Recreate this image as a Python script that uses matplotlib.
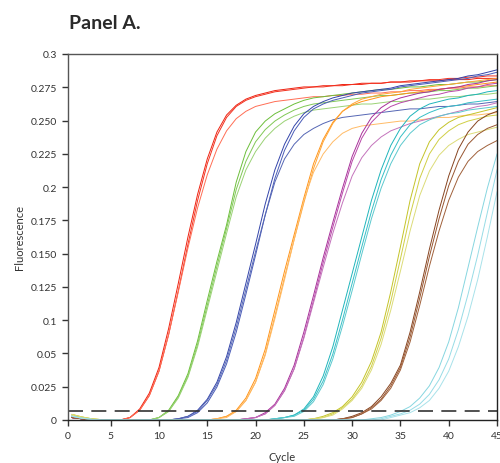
import numpy as np
import matplotlib
matplotlib.use("Agg")
import matplotlib.pyplot as plt

# qPCR amplification curves, values per cycle (1..45)
cycles = np.arange(1, 46)

# early baseline wobble at cycles 1..4
lead_high = [0.0045, 0.0025, 0.001, 0.0003]
lead_mid = [0.003, 0.0015, 0.0005]
lead_low = [0.002, 0.001]

# each series below ends at cycle 45; earlier cycles are baseline (0)
red_1 = [0.002, 0.009, 0.022, 0.043, 0.075, 0.112, 0.150, 0.185, 0.214, 0.236, 0.250, 0.258, 0.263,
         0.266, 0.268, 0.270, 0.271, 0.272, 0.273, 0.273, 0.274, 0.274, 0.275, 0.275, 0.276, 0.276,
         0.276, 0.277, 0.277, 0.277, 0.278, 0.278, 0.278, 0.279, 0.279, 0.279, 0.280, 0.280, 0.280]
red_2 = [0.002, 0.008, 0.020, 0.040, 0.070, 0.106, 0.144, 0.180, 0.210, 0.233, 0.248, 0.257, 0.262,
         0.265, 0.267, 0.269, 0.270, 0.271, 0.272, 0.273, 0.273, 0.274, 0.274, 0.275, 0.275, 0.276,
         0.276, 0.277, 0.277, 0.278, 0.278, 0.279, 0.279, 0.280, 0.280, 0.281, 0.281, 0.282, 0.282]
red_3 = [0.002, 0.008, 0.020, 0.040, 0.070, 0.105, 0.141, 0.174, 0.201, 0.222, 0.237, 0.247, 0.253,
         0.257, 0.259, 0.261, 0.262, 0.263, 0.264, 0.265, 0.265, 0.266, 0.266, 0.267, 0.267, 0.268,
         0.268, 0.269, 0.269, 0.270, 0.270, 0.271, 0.271, 0.272, 0.272, 0.273, 0.273, 0.274, 0.274]

green_1 = [0.002, 0.008, 0.020, 0.038, 0.065, 0.098, 0.130, 0.160, 0.195, 0.220, 0.236, 0.245, 0.251,
           0.255, 0.259, 0.262, 0.264, 0.265, 0.266, 0.267, 0.268, 0.269, 0.270, 0.271, 0.271, 0.272,
           0.273, 0.273, 0.274, 0.275, 0.275, 0.276, 0.277, 0.277, 0.278, 0.279]
green_2 = [0.002, 0.007, 0.019, 0.036, 0.062, 0.094, 0.126, 0.157, 0.189, 0.212, 0.228, 0.238, 0.245,
           0.250, 0.254, 0.257, 0.259, 0.260, 0.261, 0.262, 0.263, 0.264, 0.265, 0.266, 0.266, 0.267,
           0.268, 0.268, 0.269, 0.270, 0.270, 0.271, 0.272, 0.272, 0.273, 0.274]
green_3 = [0.002, 0.007, 0.018, 0.035, 0.060, 0.091, 0.122, 0.153, 0.183, 0.205, 0.220, 0.231, 0.239,
           0.245, 0.249, 0.252, 0.254, 0.255, 0.256, 0.257, 0.258, 0.259, 0.259, 0.260, 0.261, 0.261,
           0.262, 0.263, 0.263, 0.264, 0.265, 0.265, 0.266, 0.267, 0.267, 0.268]

blue_1 = [0.001, 0.003, 0.008, 0.017, 0.031, 0.052, 0.080, 0.112, 0.144, 0.177, 0.205, 0.226, 0.241,
          0.251, 0.257, 0.261, 0.264, 0.266, 0.268, 0.269, 0.270, 0.271, 0.272, 0.274, 0.275, 0.276,
          0.277, 0.278, 0.279, 0.280, 0.282, 0.283, 0.285, 0.287]
blue_2 = [0.001, 0.002, 0.006, 0.014, 0.027, 0.046, 0.072, 0.103, 0.135, 0.168, 0.198, 0.221, 0.237,
          0.248, 0.255, 0.259, 0.262, 0.264, 0.266, 0.268, 0.269, 0.270, 0.271, 0.273, 0.274, 0.275,
          0.276, 0.277, 0.278, 0.279, 0.280, 0.282, 0.283, 0.285]
blue_3 = [0.001, 0.003, 0.007, 0.016, 0.029, 0.049, 0.076, 0.107, 0.138, 0.168, 0.195, 0.214, 0.226,
          0.234, 0.239, 0.243, 0.246, 0.248, 0.249, 0.250, 0.251, 0.252, 0.253, 0.254, 0.255, 0.255,
          0.256, 0.257, 0.257, 0.258, 0.259, 0.259, 0.260, 0.261]

orange_1 = [0.001, 0.003, 0.008, 0.018, 0.034, 0.058, 0.090, 0.122, 0.152, 0.182, 0.210, 0.230, 0.244,
            0.253, 0.258, 0.261, 0.263, 0.265, 0.266, 0.267, 0.268, 0.269, 0.270, 0.271, 0.272, 0.273,
            0.274, 0.275, 0.276, 0.277]
orange_2 = [0.001, 0.003, 0.007, 0.016, 0.031, 0.054, 0.085, 0.117, 0.148, 0.178, 0.206, 0.228, 0.243,
            0.253, 0.259, 0.263, 0.265, 0.267, 0.268, 0.269, 0.271, 0.272, 0.273, 0.274, 0.275, 0.276,
            0.277, 0.278, 0.279, 0.280]
orange_3 = [0.001, 0.002, 0.007, 0.016, 0.031, 0.053, 0.083, 0.115, 0.148, 0.180, 0.203, 0.218, 0.228,
            0.235, 0.239, 0.241, 0.242, 0.243, 0.244, 0.245, 0.245, 0.246, 0.247, 0.248, 0.248, 0.249,
            0.250, 0.250, 0.251, 0.252]

magenta_1 = [0.001, 0.002, 0.006, 0.013, 0.026, 0.045, 0.072, 0.102, 0.133, 0.162, 0.190, 0.216, 0.235,
             0.248, 0.256, 0.261, 0.264, 0.266, 0.268, 0.269, 0.271, 0.272, 0.273, 0.275, 0.276, 0.278,
             0.279]
magenta_2 = [0.001, 0.002, 0.005, 0.012, 0.024, 0.042, 0.068, 0.098, 0.129, 0.158, 0.186, 0.212, 0.231,
             0.244, 0.252, 0.257, 0.260, 0.262, 0.264, 0.266, 0.267, 0.269, 0.270, 0.272, 0.273, 0.275,
             0.276]
magenta_3 = [0.001, 0.002, 0.005, 0.012, 0.024, 0.042, 0.067, 0.096, 0.125, 0.153, 0.178, 0.200, 0.215,
             0.225, 0.232, 0.237, 0.240, 0.243, 0.245, 0.247, 0.249, 0.251, 0.253, 0.255, 0.257, 0.258,
             0.260]

teal_1 = [0.001, 0.002, 0.004, 0.009, 0.019, 0.036, 0.060, 0.090, 0.120, 0.150, 0.180, 0.205, 0.225,
          0.239, 0.249, 0.255, 0.259, 0.261, 0.263, 0.264, 0.266, 0.267, 0.269, 0.270]
teal_2 = [0.001, 0.002, 0.004, 0.008, 0.017, 0.032, 0.054, 0.082, 0.112, 0.142, 0.171, 0.197, 0.217,
          0.232, 0.242, 0.248, 0.252, 0.255, 0.257, 0.258, 0.260, 0.261, 0.262, 0.263]
teal_3 = [0.001, 0.002, 0.003, 0.007, 0.015, 0.029, 0.050, 0.077, 0.106, 0.136, 0.165, 0.190, 0.210,
          0.225, 0.235, 0.242, 0.246, 0.249, 0.251, 0.252, 0.254, 0.255, 0.256, 0.257]

yellow_1 = [0.001, 0.003, 0.006, 0.011, 0.019, 0.031, 0.048, 0.072, 0.105, 0.142, 0.180, 0.210, 0.228,
            0.238, 0.244, 0.248, 0.250, 0.252, 0.254, 0.256]
yellow_2 = [0.001, 0.002, 0.005, 0.010, 0.017, 0.028, 0.044, 0.067, 0.097, 0.132, 0.168, 0.198, 0.218,
            0.230, 0.237, 0.242, 0.245, 0.247, 0.249, 0.250]
yellow_3 = [0.001, 0.002, 0.004, 0.009, 0.016, 0.026, 0.041, 0.062, 0.090, 0.122, 0.155, 0.184, 0.204,
            0.217, 0.225, 0.230, 0.234, 0.236, 0.238, 0.240]

brown_1 = [0.001, 0.003, 0.006, 0.011, 0.019, 0.030, 0.045, 0.072, 0.105, 0.140, 0.172, 0.200, 0.222,
           0.236, 0.245, 0.250, 0.253]
brown_2 = [0.001, 0.002, 0.005, 0.010, 0.017, 0.028, 0.043, 0.068, 0.100, 0.134, 0.165, 0.192, 0.212,
           0.226, 0.234, 0.239, 0.242]
brown_3 = [0.001, 0.002, 0.005, 0.009, 0.016, 0.026, 0.041, 0.064, 0.094, 0.126, 0.155, 0.180, 0.199,
           0.212, 0.220, 0.225, 0.229]

cyan_1 = [0.001, 0.002, 0.004, 0.007, 0.011, 0.018, 0.028, 0.043, 0.064, 0.092, 0.125, 0.158, 0.190,
          0.218]
cyan_2 = [0.0, 0.001, 0.003, 0.005, 0.008, 0.013, 0.021, 0.033, 0.050, 0.074, 0.103, 0.135, 0.170,
          0.205]
cyan_3 = [0.0, 0.0, 0.002, 0.004, 0.006, 0.010, 0.016, 0.026, 0.040, 0.060, 0.085, 0.115, 0.150,
          0.187]

threshold = 0.0076

y_tick_labels = ['0', '0.025', '0.05', '0.1', '0.125', '0.150', '0.175', '0.2', '0.225', '0.250',
                 '0.275', '0.3']
x_tick_labels = ['0', '5', '10', '15', '20', '25', '30', '35', '40', '45']


def full_curve(values, lead):
    y = np.zeros(len(cycles))
    y[:len(lead)] = lead
    y[len(cycles) - len(values):] = values
    return y


groups = [
    ([red_1, red_2, red_3], ['#ee2211', '#f2301e', '#ff6e55'], lead_low),
    ([green_1, green_2, green_3], ['#6cbf3a', '#80c855', '#9ad275'], lead_mid),
    ([blue_1, blue_2, blue_3], ['#3344aa', '#4a5cb8', '#5566b4'], lead_low),
    ([orange_1, orange_2, orange_3], ['#ff9418', '#ffa535', '#ffbb66'], lead_mid),
    ([magenta_1, magenta_2, magenta_3], ['#a8309a', '#b848a8', '#c474bc'], lead_low),
    ([teal_1, teal_2, teal_3], ['#1fb5bb', '#36bfc6', '#5cc9ce'], lead_mid),
    ([yellow_1, yellow_2, yellow_3], ['#c4c428', '#d0cf45', '#dcdc78'], lead_high),
    ([brown_1, brown_2, brown_3], ['#874420', '#985630', '#a0603a'], lead_low),
    ([cyan_1, cyan_2, cyan_3], ['#86d6e0', '#97dce6', '#a8e2ea'], lead_mid),
]

plt.rcParams['font.family'] = ['Lato', 'DejaVu Sans']

fig = plt.figure(figsize=(5, 4.64), dpi=100)
ax = fig.add_axes([0.136, 0.0927, 0.858, 0.7888])

for series, colors, lead in groups:
    for values, color in zip(series, colors):
        ax.plot(cycles, full_curve(values, lead), color=color, lw=0.7)

ax.axhline(threshold, color='#333333', lw=1.2, dashes=(9, 5))

ax.set_xlim(0.58, 45)
ax.set_ylim(0, 0.3)
ax.set_xticks([0.58, 5, 10, 15, 20, 25, 30, 35, 40, 45])
ax.set_xticklabels(x_tick_labels)
ax.set_yticks(np.linspace(0, 0.3, len(y_tick_labels)))
ax.set_yticklabels(y_tick_labels)
ax.tick_params(direction='out', length=4.5, width=1, pad=3.5, labelsize=7.5,
               colors='#333333', labelcolor='#333333')

for side in ['left', 'top']:
    ax.spines[side].set_color('#555555')
for side in ['bottom', 'right']:
    ax.spines[side].set_color('#222222')
for side in ax.spines:
    ax.spines[side].set_linewidth(1.0)

ax.set_xlabel('Cycle', fontsize=8, color='#333333', labelpad=8)
ax.set_ylabel('Fluorescence', fontsize=8, color='#333333', labelpad=4)

fig.text(0.138, 0.937, 'Panel A.', fontsize=14, fontweight='bold', color='#2a2a2a')

fig.savefig('out.png', dpi=100)
